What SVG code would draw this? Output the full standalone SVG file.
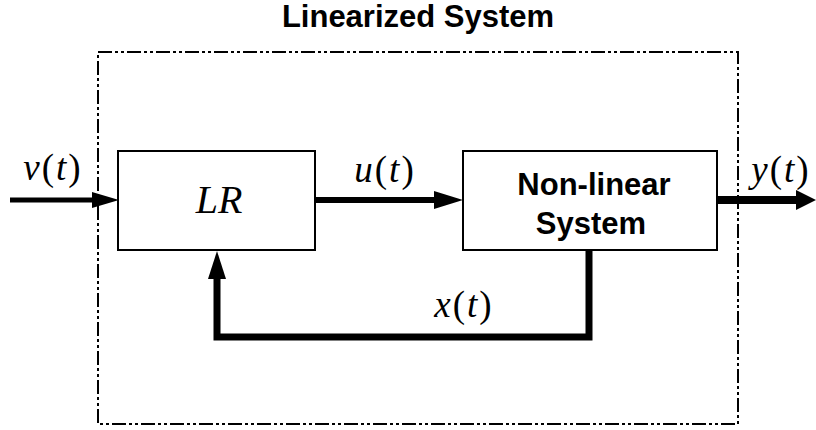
<svg xmlns="http://www.w3.org/2000/svg" width="816" height="430" viewBox="0 0 816 430">
<style>
.box{fill:#fff;stroke:#000;stroke-width:2}
.frame{fill:none;stroke:#000;stroke-width:2;stroke-dasharray:14 3 3 3 3 3}
.wire{fill:none;stroke:#000;stroke-linejoin:miter}
.title{font-family:"Liberation Sans",Arial,sans-serif;font-weight:bold;font-size:31px;text-anchor:middle}
.math{font-family:"Liberation Serif","Times New Roman",serif;font-size:37px;text-anchor:middle;letter-spacing:2px}
.it{font-style:italic}
</style>
<text class="title" x="418" y="27">Linearized System</text>
<rect class="frame" x="98" y="52" width="640" height="372"/>
<g id="connectors">
<line class="wire" x1="10" y1="200" x2="100" y2="200" stroke-width="5"/>
<path d="M92,192 L119,200 L92,208 z"/>
<line class="wire" x1="316" y1="200" x2="440" y2="200" stroke-width="6"/>
<path d="M434,191 L463,200 L434,209 z"/>
<line class="wire" x1="718" y1="200" x2="800" y2="200" stroke-width="8"/>
<path d="M796,190 L816,200 L796,210 z"/>
<path class="wire" d="M589,250 L589,337 L217,337 L217,272" stroke-width="7"/>
<path d="M208,279 L217,251 L226,279 z"/>
</g>
<g id="LR">
<rect class="box" x="118" y="151" width="197" height="99"/>
<text class="math it" x="219" y="213" style="font-size:40px;letter-spacing:0">LR</text>
</g>
<g id="NL">
<rect class="box" x="463" y="151" width="254" height="99"/>
<text class="title" x="594" y="195">Non-linear</text>
<text class="title" x="591" y="234">System</text>
</g>
<g id="labels">
<text class="math" x="53" y="180"><tspan class="it">v</tspan>(<tspan class="it">t</tspan>)</text>
<text class="math" x="385" y="182"><tspan class="it">u</tspan>(<tspan class="it">t</tspan>)</text>
<text class="math" x="781" y="182"><tspan class="it">y</tspan>(<tspan class="it">t</tspan>)</text>
<text class="math" x="464" y="317"><tspan class="it">x</tspan>(<tspan class="it">t</tspan>)</text>
</g>
</svg>
